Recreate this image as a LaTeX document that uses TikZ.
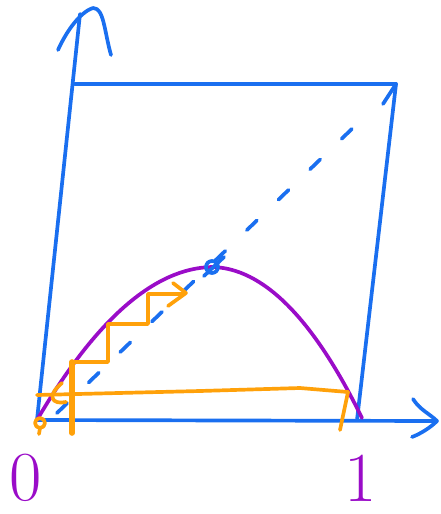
\documentclass[tikz,border=0pt]{standalone}
\usepackage{tikz}
\usepackage{xcolor}
\usetikzlibrary{arrows.meta}
\definecolor{penblue}{HTML}{1A6FF0}
\definecolor{penpurple}{HTML}{9A0CC8}
\definecolor{penorange}{HTML}{FFA10A}

\begin{document}
\begin{tikzpicture}[
  x=0.02cm, y=-0.02cm,
  every node/.style={inner sep=0pt, align=center},
  ink/.style={line width=2.1pt, line cap=round, line join=round},
  axisline/.style={ink, penblue},
  curveline/.style={ink, penpurple},
  webline/.style={ink, penorange},
  label/.style={text=penpurple, font=\fontsize{40}{42}\selectfont}
]
\useasboundingbox (0,0) rectangle (440,514);

%% Corners of the square
\coordinate (origin) at (37,420);
\coordinate (topleft) at (75,84);
\coordinate (topright) at (396,84);
\coordinate (botright) at (357,420);
\coordinate (ytip) at (80,14);
\coordinate (xtip) at (435,421);
\coordinate (peak) at (212,267);

%% Axes with hand-drawn heads
\draw[axisline] (origin) -- (ytip);
\draw[axisline] (58,50) .. controls (66,32) and (80,12) .. (93,8)
  .. controls (104,8) and (104,30) .. (111,55);
\draw[axisline] (origin) -- (xtip);
\draw[axisline] (413,399) .. controls (420,410) and (430,414) .. (437,421)
  .. controls (430,428) and (420,434) .. (412,437);

%% Square sides
\draw[axisline] (topleft) -- (topright);
\draw[axisline] (topright) -- (botright);
\draw[axisline] (383,104) -- (topright);

%% Diagonal y = x (dashed)
\draw[axisline, dash pattern=on 8pt off 17pt] (57,413) -- (357,124);

%% Logistic-type map
\draw[curveline] (origin) .. controls (96,319) and (155,268) .. (peak)
  .. controls (263,268) and (313,318) .. (362,418);

%% Fixed point
\draw[axisline] (peak) circle (6);
\draw[axisline] (204,276) -- (224,257);

%% Cobweb steps
\draw[webline, line width=3.2pt] (72,433) -- (72,362);
\draw[webline] (72,362) -- (108,362) -- (108,324) -- (148,324) -- (148,294) -- (184,294);
\draw[webline] (173,283) -- (186,293) -- (168,306);

%% Long return step near the axis
\draw[webline] (37,395) -- (200,391) -- (300,388) -- (348,392) -- (340,430);
\draw[webline] (62,383) .. controls (46,396) and (52,405) .. (66,402);
\draw[webline] (40,423) circle (5);
\draw[webline] (40,428) -- (39,434);

%% Tick labels
\node[label] (zero) at (26,478) {0};
\node[label] (one) at (361,478) {1};

\end{tikzpicture}
\end{document}
